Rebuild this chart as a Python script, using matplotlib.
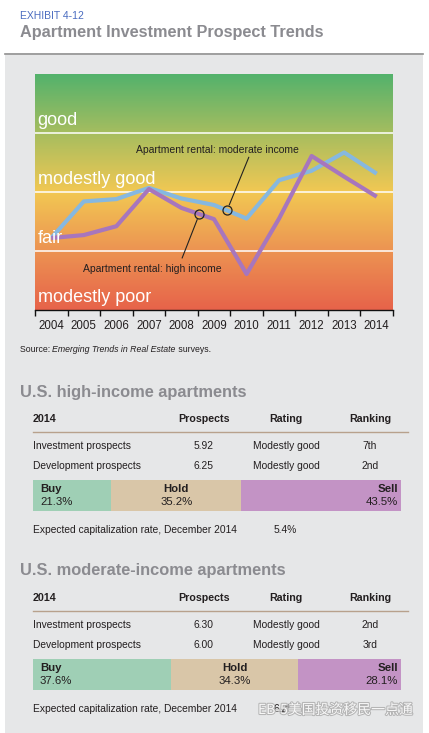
import matplotlib
matplotlib.use("Agg")
import matplotlib.pyplot as plt
import numpy as np
from matplotlib.colors import LinearSegmentedColormap
from matplotlib.patches import Rectangle
import matplotlib.patheffects as pe

# ---------------- data ----------------
years = ["2004", "2005", "2006", "2007", "2008", "2009", "2010", "2011", "2012", "2013", "2014"]
moderate_income = [5.22, 5.84, 5.88, 6.07, 5.89, 5.78, 5.55, 6.20, 6.36, 6.67, 6.31]
high_income = [5.22, 5.27, 5.42, 6.05, 5.73, 5.54, 4.61, 5.55, 6.61, 6.26, 5.92]
band_labels = ["modestly poor", "fair", "modestly good", "good"]
band_values = [4, 5, 6, 7]

table_cols = ["2014", "Prospects", "Rating", "Ranking"]
row_names = ["Investment prospects", "Development prospects"]
high_prospects = ["5.92", "6.25"]
high_rating = ["Modestly good", "Modestly good"]
high_ranking = ["7th", "2nd"]
high_bhs = [21.3, 35.2, 43.5]
high_cap = "5.4%"
mod_prospects = ["6.30", "6.00"]
mod_rating = ["Modestly good", "Modestly good"]
mod_ranking = ["2nd", "3rd"]
mod_bhs = [37.6, 34.3, 28.1]
mod_cap = "6.2%"
bhs_names = ["Buy", "Hold", "Sell"]

# ---------------- figure ----------------
W, H = 429, 733
fig = plt.figure(figsize=(W / 100, H / 100), dpi=100)
fig.patch.set_facecolor("white")

def fx(x):
    return x / W

def fy(y):
    return 1 - y / H

def ax_rect(x0, y0, x1, y1):
    return [fx(x0), fy(y1), (x1 - x0) / W, (y1 - y0) / H]

SANS = ["Liberation Sans", "DejaVu Sans"]
DARK = "#231f20"
GREYT = "#8b8b90"
TS = 7.4  # table text size

# gray panel and top rule
fig.patches.append(Rectangle((fx(5), 0), fx(423) - fx(5), fy(55), transform=fig.transFigure,
                             facecolor="#e6e7e8", edgecolor="none", zorder=-10))
fig.lines.append(plt.Line2D([fx(5), fx(423)], [fy(54), fy(54)], transform=fig.transFigure,
                            color="#8e8e8e", lw=1.2, zorder=-5))

fig.text(fx(20), fy(16), "EXHIBIT 4-12", fontsize=7.5, color="#4a6cc0", family=SANS, va="center")
fig.text(fx(20), fy(33), "Apartment Investment Prospect Trends", fontsize=11.7, color=GREYT,
         family=SANS, weight="bold", va="center")

# ---------------- line chart ----------------
ax = fig.add_axes(ax_rect(35, 74, 393, 310))
x = np.arange(len(years))
ax.set_xlim(-0.5, len(years) - 0.5)
ax.set_ylim(4, 8)

cmap = LinearSegmentedColormap.from_list("bg", [
    (0.0, "#53b26c"), (0.25, "#a6bd5f"), (0.5, "#f2c853"), (0.75, "#ec9352"), (1.0, "#e7634a")])
grad = np.linspace(0, 1, 256).reshape(-1, 1)
ax.imshow(grad, cmap=cmap, aspect="auto", extent=[-0.5, len(years) - 0.5, 4, 8],
          origin="upper", zorder=0, interpolation="bicubic")
ax.set_ylim(4, 8)

for v in band_values[1:]:
    ax.axhline(v, color="white", lw=1.1, zorder=1)

ax.plot(x, moderate_income, color="#86b8e0", lw=3.0, solid_capstyle="butt", zorder=3)
ax.plot(x, high_income, color="#a776bd", lw=3.0, solid_capstyle="butt", zorder=4)

for v, lab in zip(band_values, band_labels):
    ax.text(-0.42, v + 0.06, lab, color="white", fontsize=13, family=SANS, va="bottom",
            ha="left", zorder=5)

# callouts (circles placed on the lines between years)
hi_cx = 4.55
hi_cy = np.interp(hi_cx, x, high_income)
mo_cx = 5.4
mo_cy = np.interp(mo_cx, x, moderate_income)
ax.plot([hi_cx], [hi_cy], marker="o", ms=6.5, mfc="none", mec="#222222", mew=0.9, zorder=6)
ax.plot([mo_cx], [mo_cy], marker="o", ms=6.5, mfc="none", mec="#222222", mew=0.9, zorder=6)
ax.text(5.1, 6.72, "Apartment rental: moderate income", fontsize=7.5, family=SANS, color=DARK,
        ha="center", va="center", zorder=6)
ax.text(3.1, 4.70, "Apartment rental: high income", fontsize=7.5, family=SANS, color=DARK,
        ha="center", va="center", zorder=6)
ax.annotate("", xy=(mo_cx, mo_cy), xytext=(6.07, 6.59),
            arrowprops=dict(arrowstyle="-", color="#222222", lw=0.8, shrinkA=0, shrinkB=4.2), zorder=6)
ax.annotate("", xy=(hi_cx, hi_cy), xytext=(4.02, 4.88),
            arrowprops=dict(arrowstyle="-", color="#222222", lw=0.8, shrinkA=0, shrinkB=4.2), zorder=6)

for s in ["top", "right", "left"]:
    ax.spines[s].set_visible(False)
ax.spines["bottom"].set_color("#111111")
ax.spines["bottom"].set_linewidth(1.0)
ax.set_yticks([])
ax.set_xticks(x)
ax.set_xticklabels(years, fontsize=8.3, family=SANS, color=DARK)
ax.tick_params(axis="x", which="major", length=0, pad=7)
ax.set_xticks(np.arange(-0.5, len(years)), minor=True)
ax.tick_params(axis="x", which="minor", length=4, width=1.0, color="#111111", direction="out")

# source line, pieces placed one after another
renderer = fig.canvas.get_renderer()
cur = 20
for piece, st in [("Source: ", "normal"), ("Emerging Trends in Real Estate", "italic"), (" surveys.", "normal")]:
    t = fig.text(fx(cur), fy(350), piece, fontsize=6.3, family=SANS, color=DARK, va="center", style=st)
    bb = t.get_window_extent(renderer=renderer)
    cur += bb.width

# ---------------- tables ----------------
col_x = [33, 204, 286, 370]

def section(top, title, prospects, rating, ranking, bhs, cap):
    fig.text(fx(20), fy(top), title, fontsize=11.8, family=SANS, weight="bold", color=GREYT, va="center")
    hy = top + 27
    fig.text(fx(col_x[0]), fy(hy), table_cols[0], fontsize=TS + 0.3, family=SANS, weight="bold",
             color=DARK, va="center", ha="left")
    for cx, c in zip(col_x[1:], table_cols[1:]):
        fig.text(fx(cx), fy(hy), c, fontsize=TS + 0.3, family=SANS, weight="bold", color=DARK,
                 va="center", ha="center")
    fig.lines.append(plt.Line2D([fx(33), fx(408)], [fy(hy + 13), fy(hy + 13)],
                                transform=fig.transFigure, color="#b8a18c", lw=1.0))
    for i, name in enumerate(row_names):
        ry = hy + 27 + i * 20
        fig.text(fx(col_x[0]), fy(ry), name, fontsize=TS, family=SANS, color=DARK, va="center")
        fig.text(fx(col_x[1]), fy(ry), prospects[i], fontsize=TS, family=SANS, color=DARK,
                 va="center", ha="center")
        fig.text(fx(col_x[2]), fy(ry), rating[i], fontsize=TS, family=SANS, color=DARK,
                 va="center", ha="center")
        fig.text(fx(col_x[3]), fy(ry), ranking[i], fontsize=TS, family=SANS, color=DARK,
                 va="center", ha="center")
    by0 = hy + 61
    bax = fig.add_axes(ax_rect(33, by0, 401, by0 + 31))
    bax.set_xlim(0, sum(bhs))
    bax.set_ylim(0, 1)
    bax.axis("off")
    colors = ["#9fcfb5", "#d9c6a8", "#c393c5"]
    left = 0
    for j, (val, col, nm) in enumerate(zip(bhs, colors, bhs_names)):
        bax.barh(0.5, val, left=left, height=1.0, color=col, edgecolor="none")
        if j == 0:
            tx, ha = left + 1.9, "left"
        elif j == 1:
            tx, ha = left + val / 2, "center"
        else:
            tx, ha = left + val - 0.8, "right"
        bax.text(tx, 0.70, nm, fontsize=8.2, family=SANS, weight="bold", color=DARK, ha=ha, va="center")
        bax.text(tx, 0.28, f"{val:.1f}%", fontsize=8.2, family=SANS, color=DARK, ha=ha, va="center")
        left += val
    cy = by0 + 50
    fig.text(fx(33), fy(cy), "Expected capitalization rate, December 2014", fontsize=TS,
             family=SANS, color=DARK, va="center")
    fig.text(fx(285), fy(cy), cap, fontsize=TS, family=SANS, color=DARK, va="center", ha="center")

section(392, "U.S. high-income apartments", high_prospects, high_rating, high_ranking, high_bhs, high_cap)
section(571, "U.S. moderate-income apartments", mod_prospects, mod_rating, mod_ranking, mod_bhs, mod_cap)

# watermark
fig.text(fx(258), fy(710), "EB-5美国投资移民一点通", fontsize=10, color="white",
         family=["Noto Sans CJK SC", "DejaVu Sans"], va="center", ha="left", alpha=0.9,
         path_effects=[pe.withStroke(linewidth=1.5, foreground="#b0b0b0")], zorder=10)

fig.savefig("out.png", dpi=100)
